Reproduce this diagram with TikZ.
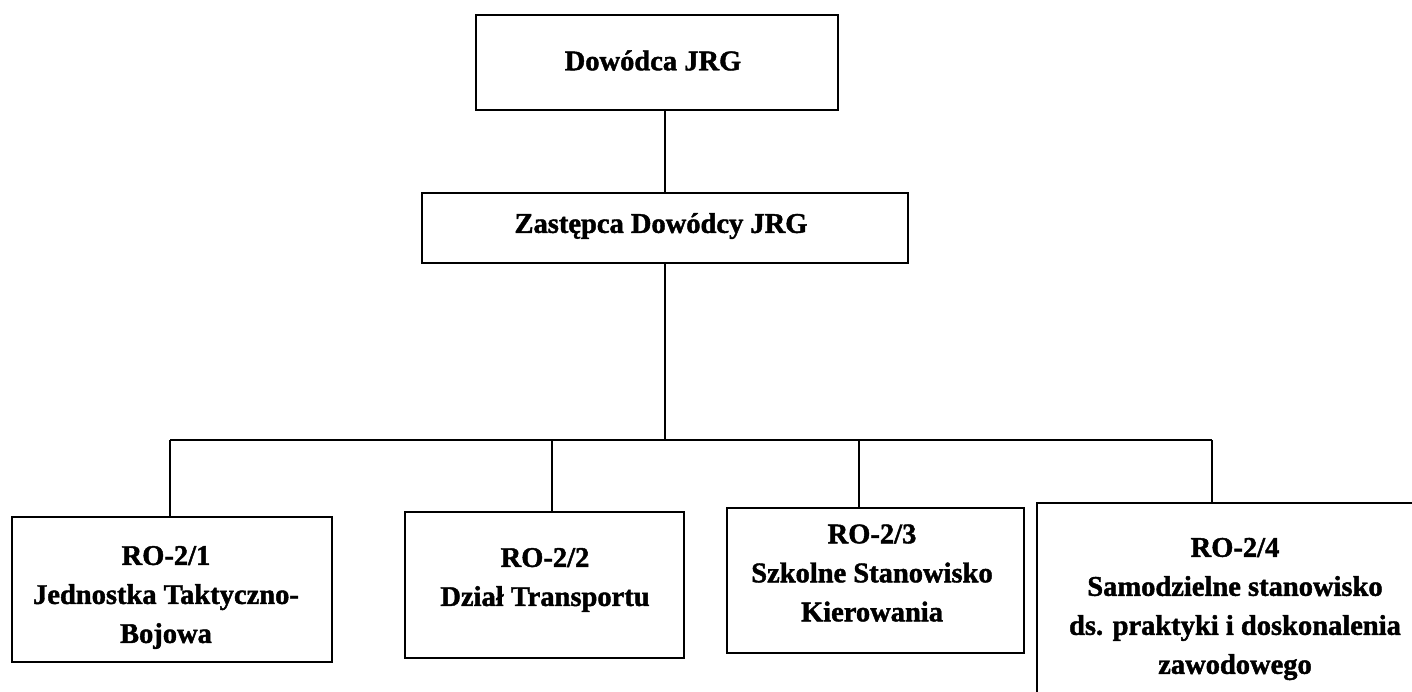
\documentclass[tikz,border=0pt]{standalone}
\usepackage{fontspec}
\setmainfont{Liberation Serif}[BoldFeatures={FakeBold=1.5}]
\begin{document}
\begin{tikzpicture}[x=1pt,y=-1pt,
  box/.style={draw,line width=1.6pt,rectangle,inner sep=0pt},
  lbl/.style={align=center,inner sep=0pt,
    font=\bfseries\fontsize{28.5}{39}\selectfont},
  conn/.style={line width=1.6pt}]
\useasboundingbox (0,0) rectangle (1412,691);
\clip (0,0) rectangle (1412,691);
\fill[white] (0,0) rectangle (1412,691);
% boxes
\node[box,minimum width=362pt,minimum height=95pt] (b1) at (657,62.5) {};
\node[box,minimum width=486pt,minimum height=70pt] (b2) at (665,228) {};
\node[box,minimum width=320pt,minimum height=145pt] (r1) at (172,589.5) {};
\node[box,minimum width=279pt,minimum height=146pt] (r2) at (544.5,585) {};
\node[box,minimum width=297pt,minimum height=145pt] (r3) at (875.5,580.5) {};
\node[box,minimum width=400pt,minimum height=202pt] (r4) at (1237,604) {};
% texts
\node[lbl] (t1) at (653,60.5) {Dowódca JRG};
\node[lbl] (t2) at (661,226) {Zastępca Dowódcy JRG};
\node[lbl] (t3) at (166,597.5) {RO-2/1\\Jednostka Taktyczno-\\Bojowa};
\node[lbl] (t4) at (545,580) {RO-2/2\\Dział Transportu};
\node[lbl] (t5) at (872,573) {RO-2/3\\Szkolne Stanowisko\\Kierowania};
\node[lbl] (t6) at (1235,609) {RO-2/4\\Samodzielne stanowisko\\ds. praktyki i doskonalenia\\zawodowego};
% connectors
\coordinate (j) at (665,440);
\coordinate (d1) at (170,440);
\coordinate (d2) at (552,440);
\coordinate (d3) at (859,440);
\coordinate (d4) at (1212,440);
\draw[conn] (b2.north |- b1.south) -- (b2.north);
\draw[conn] (b2.south) -- (j);
\draw[conn] (d1) -- (d4);
\draw[conn] (d1) -- (d1 |- r1.north);
\draw[conn] (d2) -- (d2 |- r2.north);
\draw[conn] (d3) -- (d3 |- r3.north);
\draw[conn] (d4) -- (d4 |- r4.north);
\end{tikzpicture}
\end{document}
